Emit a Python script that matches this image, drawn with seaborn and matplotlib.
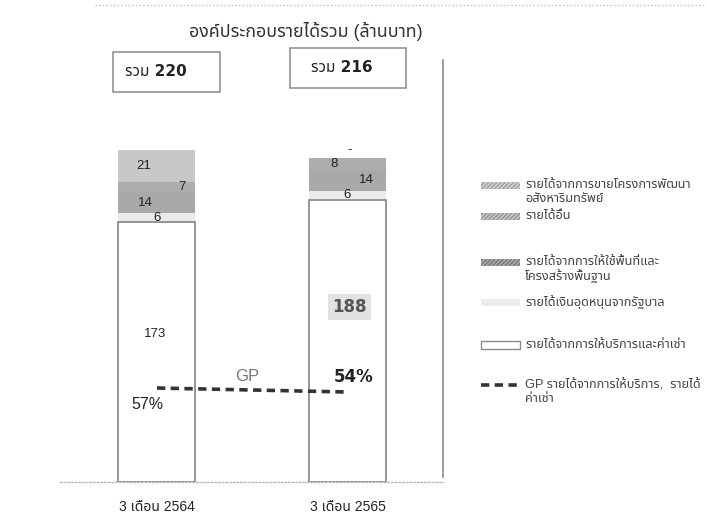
import matplotlib
matplotlib.use("Agg")
import matplotlib.pyplot as plt
import seaborn as sns
import numpy as np
from matplotlib.patches import Rectangle
from matplotlib.lines import Line2D

# ---------------- data ----------------
periods = ["3 เดือน 2564", "3 เดือน 2565"]
service_rent = [173, 188]      # รายได้จากการให้บริการและค่าเช่า
gov_subsidy = [6, 6]           # รายได้เงินอุดหนุนจากรัฐบาล
space_infra = [14, 14]         # รายได้จากการให้ใช้พื้นที่และโครงสร้างพื้นฐาน
other_income = [7, 8]          # รายได้อื่น
property_sales = [21, 0]       # รายได้จากการขายโครงการพัฒนาอสังหาริมทรัพย์
gp_margin = [57, 54]           # GP (%)
totals = [220, 216]

title = "องค์ประกอบรายได้รวม (ล้านบาท)"
legend_lines = [
    ["รายได้จากการขายโครงการพัฒนา", "อสังหาริมทรัพย์"],
    ["รายได้อื่น"],
    ["รายได้จากการให้ใช้พื้นที่และ", "โครงสร้างพื้นฐาน"],
    ["รายได้เงินอุดหนุนจากรัฐบาล"],
    ["รายได้จากการให้บริการและค่าเช่า"],
    ["GP รายได้จากการให้บริการ,  รายได้", "ค่าเช่า"],
]

# ---------------- style ----------------
sns.set_theme(style="white")
plt.rcParams['font.family'] = ['Liberation Sans', 'Noto Sans Thai', 'DejaVu Sans']
plt.rcParams['hatch.linewidth'] = 0.8
BOLD = ['DejaVu Sans', 'Noto Sans Thai']

W, H = 707, 529
def fx(x): return x / W
def fy(y): return 1 - y / H

fig = plt.figure(figsize=(W / 100, H / 100), dpi=100)
ax = fig.add_axes([fx(60), fy(482), 383 / W, 425 / H])

layers = [service_rent, gov_subsidy, space_infra, other_income, property_sales]
colors = ["white", "#ebebeb", "#a9a9a9", "#adadad", "#c8c8c8"]
cum = np.cumsum(np.array(layers), axis=0)

for i in reversed(range(len(layers))):
    kw = dict(edgecolor="#8e8e8e", linewidth=1.3) if i == 0 else dict(linewidth=0)
    sns.barplot(x=periods, y=cum[i], color=colors[i], width=0.404, saturation=1,
                errorbar=None, ax=ax, **kw)

ax.set_xlim(-0.509, 1.501)
ax.set_ylim(0, 283.3)
ax.set_xlabel("")
ax.set_ylabel("")
ax.set_yticks([])
ax.tick_params(axis='x', length=0, pad=13, labelsize=10, colors='#222')
for s in ["left", "top"]:
    ax.spines[s].set_visible(False)
ax.spines["right"].set_color("#8c8c8c")
ax.spines["right"].set_linewidth(1.2)
ax.spines["right"].set_bounds(3, 283.3 - 2)
ax.spines["bottom"].set_color("#b5b5b5")
ax.spines["bottom"].set_linestyle(":")
ax.spines["bottom"].set_linewidth(1.0)

# segment labels
def seg_mid(layer, j):
    lo = cum[layer - 1][j] if layer > 0 else 0
    return lo + layers[layer][j] / 2

lab_kw = dict(fontsize=9.5, color="#222", va="center")
# bar 1
ax.text(0 - 0.01, service_rent[0] * 0.57, str(service_rent[0]), ha="center", fontsize=9.5, color="#222", va="center")
ax.text(0, seg_mid(1, 0), str(gov_subsidy[0]), ha="center", **lab_kw)
ax.text(-0.06, seg_mid(2, 0), str(space_infra[0]), ha="center", **lab_kw)
ax.text(0.13, seg_mid(3, 0), str(other_income[0]), ha="center", **lab_kw)
ax.text(-0.07, seg_mid(4, 0), str(property_sales[0]), ha="center", **lab_kw)
# bar 2
ax.text(1.01, service_rent[1] * 0.62, str(service_rent[1]), ha="center", va="center",
        fontsize=12, fontweight="bold", family=BOLD, color="#555",
        bbox=dict(boxstyle="square,pad=0.25", fc="#e2e2e2", ec="none"))
ax.text(1, seg_mid(1, 1), str(gov_subsidy[1]), ha="center", **lab_kw)
ax.text(1.10, seg_mid(2, 1), str(space_infra[1]), ha="center", **lab_kw)
ax.text(0.93, seg_mid(3, 1), str(other_income[1]), ha="center", **lab_kw)
ax.text(1.01, cum[4][1] + 5, "-", ha="center", **lab_kw)

# GP line on secondary axis
ax2 = ax.twinx()
ax2.set_ylim(-13.5, 305.25)
sns.lineplot(x=[0, 1], y=gp_margin, ax=ax2, color="#333333", linewidth=2.6)
for ln in ax2.lines:
    ln.set_dashes((2.3, 1.5))
ax2.set_yticks([])
ax2.set_ylabel("")
for s in ax2.spines.values():
    s.set_visible(False)
ax.set_xlim(-0.509, 1.501)

ax2.annotate(f"{gp_margin[0]}%", (0, gp_margin[0]), xytext=(-7, -12), textcoords="offset points",
             ha="center", va="center", fontsize=11.5, color="#222")
ax2.annotate(f"{gp_margin[1]}%", (1, gp_margin[1]), xytext=(4.5, 11), textcoords="offset points",
             ha="center", va="center", fontsize=12, fontweight="bold", family=BOLD, color="#222")
ax2.annotate("GP", (0.5, np.mean(gp_margin)), xytext=(-3.5, 10), textcoords="offset points",
             ha="center", va="center", fontsize=12, color="#777")

# title and total boxes
fig.text(fx(306), fy(31), title, ha="center", va="center", fontsize=12.8, color="#333")
fig.add_artist(Line2D([fx(95), fx(705)], [fy(5), fy(5)], ls=":", color="#c0c0c0", lw=1))
for (x0, y0, w, h, tx), tot in zip([(113, 52, 107, 40, 125), (290, 48, 116, 40, 311)], totals):
    fig.add_artist(Rectangle((fx(x0), fy(y0 + h)), w / W, h / H, transform=fig.transFigure,
                             fill=False, edgecolor="#8a8a8a", lw=1.1))
    fig.text(fx(tx), fy(y0 + h / 2), f"รวม {tot}", ha="left", va="center", fontsize=11,
             fontweight="bold", family=BOLD, color="#222")

# legend (manual)
leg_y = [185, 216, 262, 302, 345, 385]
sw_colors = ["#d0d0d0", "#c4c4c4", "#a8a8a8", "#ececec", "white", None]
sw_hatch = ["////////", "////////", "////////", None, None, None]
sw_hcol = ["#9a9a9a", "#8e8e8e", "#707070", "#ececec", "#8a8a8a", None]
for k, (y, lines) in enumerate(zip(leg_y, legend_lines)):
    if k < 5:
        hh = 8 if k == 4 else 7
        rect = Rectangle((fx(481), fy(y + hh / 2)), 39 / W, hh / H, transform=fig.transFigure,
                         facecolor=sw_colors[k], hatch=sw_hatch[k],
                         edgecolor=sw_hcol[k], lw=1.0 if k == 4 else 0)
        fig.add_artist(rect)
    else:
        l = Line2D([fx(481), fx(520)], [fy(y), fy(y)], transform=fig.transFigure,
                   color="#333333", lw=2.6)
        l.set_dashes((2.3, 1.5))
        fig.add_artist(l)
    for m, t in enumerate(lines):
        fig.text(fx(525), fy(y + 14 * m), t, ha="left", va="center", fontsize=9.2, color="#444")

fig.savefig("out.png", dpi=100)
